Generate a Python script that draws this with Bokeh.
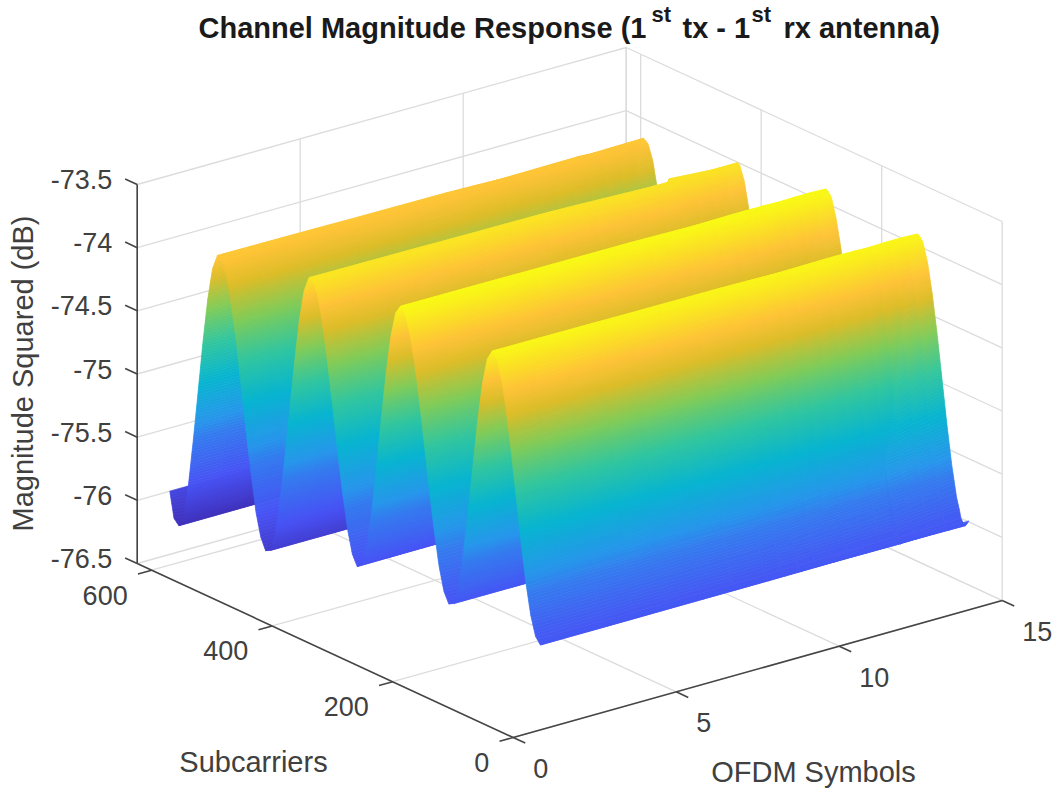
from bokeh.plotting import figure
from bokeh.models import Range1d
from bokeh.core.properties import value
from bokeh.embed import file_html
from bokeh.resources import INLINE
import numpy as np

# ---- values ----
subcarriers = [1, 9, 17, 25, 33, 41, 49, 57, 65, 73, 81, 89, 97, 105, 113, 121, 129, 137, 145, 153,
               161, 169, 177, 185, 193, 201, 209, 217, 225, 233, 241, 249, 257, 265, 273, 281, 289,
               297, 305, 313, 321, 329, 337, 345, 353, 361, 369, 377, 385, 393, 401, 409, 417, 425,
               433, 441, 449, 457, 465, 473, 481, 489, 497, 505, 513, 521, 529, 537, 545, 553, 561,
               569, 577, 585, 593, 601, 609, 617, 624]
magnitude_db = [-75.80, -75.86, -75.81, -75.66, -75.42, -75.12, -74.785, -74.45, -74.15, -73.91, -73.76,
                -73.71, -73.79, -74.00, -74.31, -74.69, -75.07, -75.42, -75.70, -75.85,
                -75.87, -75.79, -75.61, -75.35, -75.05, -74.72, -74.40, -74.11, -73.89, -73.74, -73.69,
                -73.76, -73.96, -74.27, -74.65, -75.05, -75.42, -75.70, -75.87,
                -75.91, -75.83, -75.65, -75.39, -75.09, -74.76, -74.45, -74.16, -73.94, -73.82, -73.80,
                -73.92, -74.17, -74.52, -74.91, -75.31, -75.66, -75.94, -76.10,
                -76.12, -76.03, -75.85, -75.57, -75.27, -74.94, -74.60, -74.33, -74.11, -73.99, -73.96,
                -74.08, -74.34, -74.70, -75.11, -75.51, -75.88, -76.13, -76.24, -76.20, -76.00]
ofdm_symbols = [1, 2, 3, 4, 5, 6, 7, 8, 9, 10, 11, 12, 12.05, 13, 14]
subcarrier_drift = [0, 0.1, 0.2, 0.3, 0.5, 0.6, 0.7, 0.8, 1.2, 1.8, 2.4, 3.0, 1.1, 2.3, 3.4]

x_ticks = [0, 5, 10, 15]
y_ticks = [0, 200, 400, 600]
z_ticks = [-76.5, -76, -75.5, -75, -74.5, -74, -73.5]
z_tick_labels = ["-76.5", "-76", "-75.5", "-75", "-74.5", "-74", "-73.5"]
x_limits = (0, 15)
y_limits = (0, 624)
z_limits = (-76.5, -73.5)

title_parts = ["Channel Magnitude Response (1", "st", "tx - 1", "st", "rx antenna)"]
parula_stops = [0, 0.125, 0.25, 0.375, 0.5, 0.625, 0.75, 0.84, 0.875, 1]
parula_nodes = [(0.2422, 0.1504, 0.6603), (0.2810, 0.3228, 0.9579), (0.1540, 0.5902, 0.9218),
                (0.0297, 0.7082, 0.8163), (0.1938, 0.7758, 0.6251), (0.5044, 0.7993, 0.3480),
                (0.8634, 0.7406, 0.1596), (0.9970, 0.7659, 0.2199), (0.9892, 0.8136, 0.1885),
                (0.9769, 0.9839, 0.0805)]
# where the colours of the map sit on the magnitude scale
colour_db = [-76.30, -76.24, -75.86, -75.50, -75.00, -74.53, -74.27, -73.98, -73.69]
colour_pos = [0.0, 0.03, 0.13, 0.20, 0.39, 0.58, 0.70, 0.845, 1.0]

# ---- view of the 3-D box: page pixels of its corners ----
O = (512.7, 737.0)    # x=0,  y=0,   z=min
XV = (489.0, -137.0)  # along the whole x limits
YV = (-376.0, -174.0) # along the whole y limits
ZV = (0.0, -379.0)    # along the whole z limits


def proj(x, y, z):
    x, y, z = np.asarray(x, float), np.asarray(y, float), np.asarray(z, float)
    a = (x - x_limits[0]) / (x_limits[1] - x_limits[0])
    b = (y - y_limits[0]) / (y_limits[1] - y_limits[0])
    c = (z - z_limits[0]) / (z_limits[1] - z_limits[0])
    return O[0] + a * XV[0] + b * YV[0] + c * ZV[0], O[1] + a * XV[1] + b * YV[1] + c * ZV[1]


W, H = 1055, 788
p = figure(width=W, height=H, output_backend="svg", toolbar_location=None,
           x_range=Range1d(0, W), y_range=Range1d(H, 0), min_border=0,
           outline_line_color=None, background_fill_color="white")
p.axis.visible = False
p.grid.visible = False

# ---- walls and floor grid ----
GRID = "#dcdcdc"
xm, xM = x_limits
ym, yM = y_limits
zm, zM = z_limits
g = []
for z in z_ticks:
    g.append(((xm, yM, z), (xM, yM, z)))
    g.append(((xM, yM, z), (xM, ym, z)))
for x in x_ticks:
    g.append(((x, yM, zm), (x, yM, zM)))
    g.append(((x, ym, zm), (x, yM, zm)))
for y in y_ticks:
    g.append(((xM, y, zm), (xM, y, zM)))
    g.append(((xm, y, zm), (xM, y, zm)))
g.append(((xM, yM, zm), (xM, yM, zM)))
gx, gy = [], []
for a, b in g:
    s0 = proj(*a)
    s1 = proj(*b)
    gx.append([float(s0[0]), float(s1[0])])
    gy.append([float(s0[1]), float(s1[1])])
p.multi_line(gx, gy, line_color=GRID, line_width=1.3)

# ---- surface, back to front; each facet is shaded in thin strips ----
ys = np.asarray(subcarriers, float)
zs = np.asarray(magnitude_db, float)
col_edges = []
for a, b in zip(ofdm_symbols[:-1], ofdm_symbols[1:]):
    col_edges.append(a)
    if a >= 8 and b - a > 0.5:
        col_edges.append((a + b) / 2)
col_edges.append(ofdm_symbols[-1])
col_edges = np.array(col_edges)
row_edges = []
for k in range(len(subcarriers) - 1):
    n = max(1, int(np.ceil(abs(zs[k + 1] - zs[k]) * 126.3 / 3.0)))
    row_edges += list(np.linspace(subcarriers[k], subcarriers[k + 1], n, endpoint=False))
row_edges.append(subcarriers[-1])
row_edges = np.array(row_edges)
drift = np.interp(col_edges, ofdm_symbols, subcarrier_drift)
edge_hold = np.clip((row_edges - subcarriers[0]) / 16, 0, 1)  # the front edge itself does not drift
ZZ = np.array([np.interp(row_edges + d * edge_hold, ys, zs) for d in drift])
nodes = np.array(parula_nodes)


def colour(v):
    t = np.interp(v, colour_db, colour_pos)
    rgb = [np.interp(t, parula_stops, nodes[:, k]) for k in range(3)]
    return "#%02x%02x%02x" % tuple(int(round(255 * c)) for c in rgb)


XX, YY = np.meshgrid(col_edges, row_edges, indexing="ij")
SX, SY = proj(XX, YY, ZZ)
qx, qy, qc = [], [], []
for j in range(len(row_edges) - 2, -1, -1):
    for i in range(len(col_edges) - 2, -1, -1):
        qx.append([round(float(SX[i, j]), 2), round(float(SX[i + 1, j]), 2), round(float(SX[i + 1, j + 1]), 2), round(float(SX[i, j + 1]), 2)])
        qy.append([round(float(SY[i, j]), 2), round(float(SY[i + 1, j]), 2), round(float(SY[i + 1, j + 1]), 2), round(float(SY[i, j + 1]), 2)])
        qc.append(colour((ZZ[i, j] + ZZ[i + 1, j] + ZZ[i + 1, j + 1] + ZZ[i, j + 1]) / 4))
p.patches(xs=qx, ys=qy, fill_color=qc, line_color=qc, line_width=0.7)

# ---- axes ----
AX = "#454545"
lines = [((xm, ym, zm), (xM, ym, zm)), ((xm, ym, zm), (xm, yM, zm)), ((xm, yM, zm), (xm, yM, zM))]
TK_X = 0.42      # tick length in symbols
TK_Y = 20        # tick length in subcarriers
for x in x_ticks:
    lines.append(((x, ym, zm), (x, ym - TK_Y, zm)))
for y in y_ticks:
    lines.append(((xm, y, zm), (xm - TK_X, y, zm)))
for z in z_ticks:
    lines.append(((xm, yM, z), (xm, yM + TK_Y, z)))
ax_x, ax_y = [], []
for a, b in lines:
    s0 = proj(*a)
    s1 = proj(*b)
    ax_x.append([float(s0[0]), float(s1[0])])
    ax_y.append([float(s0[1]), float(s1[1])])
p.multi_line(ax_x, ax_y, line_color=AX, line_width=1.6)

FONT = value("Liberation Sans")
TS = "27px"
LS = "29px"
TXT = "#404040"


def label(x, y, txt, align="center", size=TS, color=TXT, style="normal", angle=0.0):
    p.text(x=[x], y=[y], text=[txt], text_font=FONT, text_font_size=size, text_color=color,
           text_align=align, text_baseline="middle", text_font_style=style, angle=angle)


for z, t in zip(z_ticks, z_tick_labels):
    sx, sy = proj(xm, yM, z)
    label(float(sx) - 25, float(sy) - 5, t, "right")
for y in y_ticks:
    sx, sy = proj(xm, y, zm)
    label(float(sx) - 24, float(sy) + 25, str(y), "right")
for x in x_ticks:
    sx, sy = proj(x, ym, zm)
    label(float(sx) + 20, float(sy) + 31, str(x), "left")

label(253, 761, "Subcarriers", size=LS)
label(813, 771, "OFDM Symbols", size=LS)
label(22, 373, "Magnitude Squared (dB)", size=LS, angle=np.pi / 2)

# ---- title with superscripts ----
TC = "#1a1a1a"
label(198, 27, title_parts[0], "left", "29px", TC, "bold")
label(651, 14, title_parts[1], "left", "22px", TC, "bold")
label(682, 27, title_parts[2], "left", "29px", TC, "bold")
label(751, 14, title_parts[3], "left", "22px", TC, "bold")
label(783, 27, title_parts[4], "left", "29px", TC, "bold")

open("out.html", "w").write(file_html(p, INLINE))
